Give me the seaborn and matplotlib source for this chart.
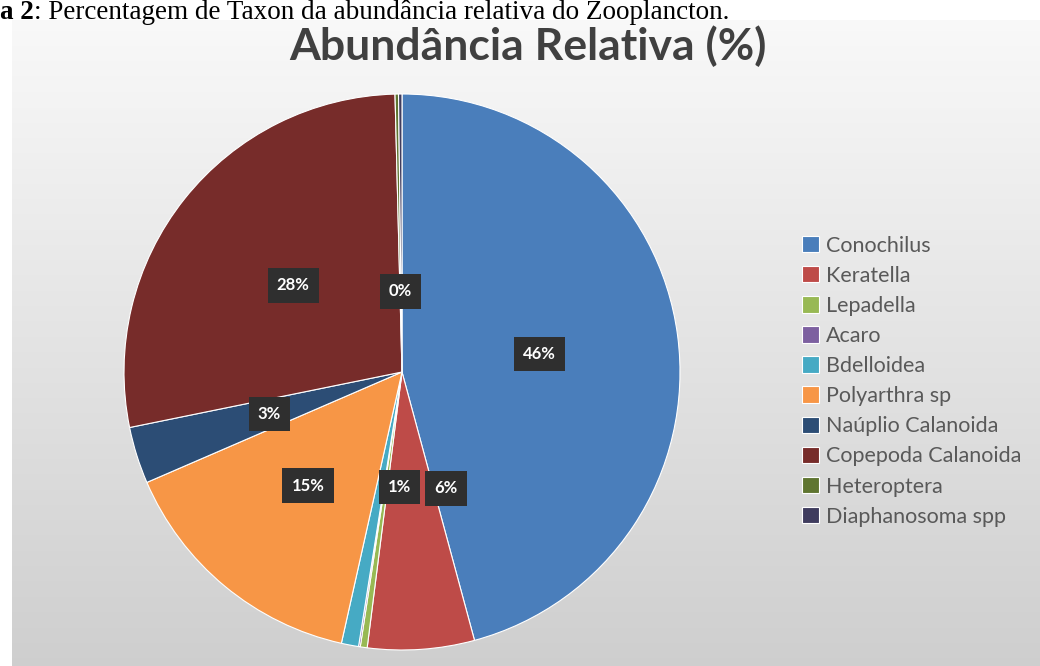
import numpy as np
import matplotlib
matplotlib.use("Agg")
import matplotlib.pyplot as plt
import seaborn as sns

categories = ["Conochilus", "Keratella", "Lepadella", "Acaro", "Bdelloidea",
              "Polyarthra sp", "Naúplio Calanoida", "Copepoda Calanoida",
              "Heteroptera", "Diaphanosoma spp"]
values = [45.8, 6.2, 0.4, 0.1, 1.0, 15.0, 3.3, 27.8, 0.2, 0.2]
colors_hex = ["#4a7ebb", "#be4b48", "#98b954", "#7d60a0", "#46aac4",
              "#f79646", "#2c4d75", "#772c2a", "#5f7530", "#3f3c5e"]
title = "Abundância Relativa (%)"
caption_bold = "a 2"
caption_rest = ": Percentagem de Taxon da abundância relativa do Zooplancton."

sns.set_theme(style="white")
plt.rcParams['font.family'] = ['Lato', 'DejaVu Sans']
palette = sns.color_palette(colors_hex)

W, H = 1040, 666
fig = plt.figure(figsize=(W / 100, H / 100), dpi=100)
fig.patch.set_facecolor("white")

# gradient background of chart area
bg = fig.add_axes([12 / W, 0, (W - 12) / W, (H - 20) / H])
grad = np.linspace(0, 1, 256).reshape(-1, 1)
top = np.array([0.975, 0.975, 0.975])
bot = np.array([0.81, 0.81, 0.81])
img = top[None, None, :] * (1 - grad[:, :, None]) + bot[None, None, :] * grad[:, :, None]
img = np.repeat(img, 2, axis=1)
bg.imshow(img, aspect="auto", extent=[0, 1, 0, 1])
bg.set_axis_off()

# caption
t1 = fig.text(0, 1 - 19 / H, caption_bold, ha="left", va="baseline", fontsize=19.5,
              family=["Liberation Serif"], fontweight="bold", color="black")
fig.canvas.draw()
bb = t1.get_window_extent()
fig.text(bb.x1 / W, 1 - 19 / H, caption_rest, ha="left", va="baseline",
         fontsize=19.5, family=["Liberation Serif"], color="black")

# title
fig.text(528 / W, 1 - 46 / H, title, ha="center", va="center", fontsize=32,
         fontweight="bold", color="#404040")

# pie
cx, cy, r = 402, 372, 278
ax = fig.add_axes([(cx - r) / W, (H - cy - r) / H, 2 * r / W, 2 * r / H])
ax.set_facecolor("none")
wedges, texts, autotexts = ax.pie(
    values, colors=palette, startangle=90, counterclock=False,
    autopct=lambda p: f"{p:.0f}%", pctdistance=0.5,
    wedgeprops=dict(linewidth=0.8, edgecolor="white"),
    textprops=dict(color="white", fontsize=12, fontweight="bold"))
for t in autotexts:
    t.set_bbox(dict(boxstyle="square,pad=0.55", fc="#2f2f2f", ec="none"))
# best-fit style placement for the thin slices (labels stack like the original)
total = sum(values)
cum = np.cumsum([0] + values[:-1])
for i, t in enumerate(autotexts):
    mid = np.deg2rad(90 - 360 * (cum[i] + values[i] / 2) / total)
    if values[i] < 2:
        d = 0.42 if cum[i] / total < 0.9 else 0.29
        shift = 0.07 if cum[i] / total < 0.9 else 0.0
        t.set_position((d * np.cos(mid) + shift, d * np.sin(mid)))
        if categories[i] in ("Lepadella", "Acaro", "Diaphanosoma spp"):
            t.set_visible(False)
    elif categories[i] == "Keratella":
        t.set_position((0.42 * np.cos(mid) + 0.13, 0.42 * np.sin(mid)))
    elif categories[i] == "Polyarthra sp":
        t.set_position((0.53 * np.cos(mid), 0.53 * np.sin(mid)))
autotexts[4].set_zorder(10)
ax.set_xlim(-1, 1)
ax.set_ylim(-1, 1)
ax.set_aspect("auto")
ax.set_axis_off()

# legend
leg = fig.legend(wedges, categories, loc="upper left",
                 bbox_to_anchor=(793 / W, 1 - 227 / H), frameon=False,
                 fontsize=15.5, labelspacing=0.47, handlelength=0.8,
                 handleheight=0.8, handletextpad=0.33, borderaxespad=0)
for t in leg.get_texts():
    t.set_color("#595959")

fig.savefig("out.png", dpi=100)
